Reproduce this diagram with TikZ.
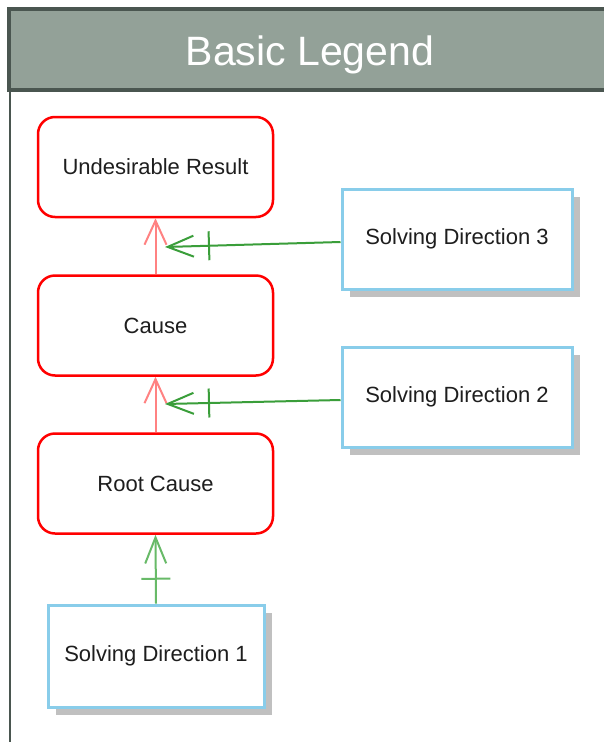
\documentclass[tikz,border=0pt]{standalone}
\usepackage{fontspec}
\setmainfont{Liberation Sans}
\usetikzlibrary{arrows.meta,shadows,decorations.markings}

\definecolor{barfill}{RGB}{147,161,152}
\definecolor{barline}{RGB}{74,86,80}
\definecolor{causered}{RGB}{255,0,0}
\definecolor{linkred}{RGB}{255,130,130}
\definecolor{boxblue}{RGB}{137,205,234}
\definecolor{solvegreen}{RGB}{58,158,58}
\definecolor{solvegreenlt}{RGB}{104,186,104}
\definecolor{shadowgray}{RGB}{192,192,192}
\definecolor{labeltext}{RGB}{30,30,30}

\begin{document}
\begin{tikzpicture}[x=1pt,y=-1pt,
  causebox/.style={draw=causered, line width=2.5pt, rounded corners=17pt,
    fill=white, minimum width=235pt, minimum height=100pt, inner sep=0pt,
    font=\fontsize{22}{26}\selectfont, text=labeltext},
  solvebox/.style={draw=boxblue, line width=3pt, fill=white,
    minimum width=230pt, minimum height=100pt, inner sep=0pt,
    font=\fontsize{22}{26}\selectfont, text=labeltext,
    drop shadow={shadow xshift=8pt, shadow yshift=-8pt, fill=shadowgray, opacity=1}},
  causelink/.style={draw=linkred, line width=2pt,
    -{Straight Barb[length=24pt,width=22pt]}},
  solvelink/.style={draw=#1, line width=2pt,
    -{Straight Barb[length=26pt,width=21pt]},
    postaction={decorate, decoration={markings,
      mark=at position -44pt with {\draw[-, #1, line width=2pt] (0pt,-14.5pt) -- (0pt,14.5pt);}}}},
  solvelink/.default=solvegreen
]
\useasboundingbox (0,0) rectangle (604,742);
\clip (0,0) rectangle (604,742);
\fill[white] (0,0) rectangle (604,742);

% frame of the legend
\draw[barline, line width=2pt] (9.5,90) -- (9.5,750);
\draw[barline, line width=4.5pt, fill=barfill] (9,9) rectangle (620,90);
\node[text=white, font=\fontsize{41}{48}\selectfont, anchor=base, inner sep=0pt] (title) at (310,65) {Basic Legend};

% cause chain
\node[causebox] (result) at (155.5,167) {Undesirable Result};
\node[causebox] (cause) at (155.5,325.5) {Cause};
\node[causebox] (root) at (155.5,483.5) {Root Cause};

% solving directions
\node[solvebox] (sd3) at (457,239) {Solving Direction 3};
\node[solvebox] (sd2) at (457,397) {Solving Direction 2};
\node[solvebox, minimum width=216pt, minimum height=102pt] (sd1) at (156,656) {Solving Direction 1};

% links between causes
\draw[causelink] (cause.north) -- (result.south);
\draw[causelink] (root.north) -- (cause.south);

% links from solving directions
\coordinate (hit3) at (165,247);
\coordinate (hit2) at (165,404);
\draw[solvelink] ([yshift=-3pt]sd3.west) -- (hit3);
\draw[solvelink] ([yshift=-3pt]sd2.west) -- (hit2);
\draw[solvelink=solvegreenlt] (sd1.north) -- (root.south);
\end{tikzpicture}
\end{document}
